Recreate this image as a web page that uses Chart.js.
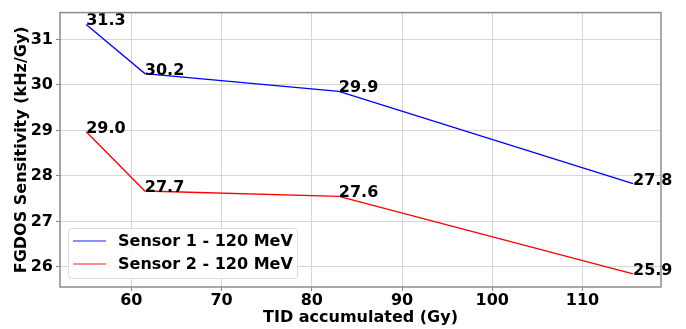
<!DOCTYPE html>
<html>
<head>
<meta charset="utf-8">
<script src="https://cdn.jsdelivr.net/npm/chart.js@4/dist/chart.umd.min.js"></script>
<style>
  html, body { margin: 0; padding: 0; background: #fff; }
  #wrap { width: 686px; height: 329px; }
</style>
</head>
<body>
<div id="wrap"><canvas id="chart" width="686" height="329"></canvas></div>
<script>
// dose points (Gy)
const tid = [55.0, 61.5, 83.0, 115.6];
// sensitivity per sensor (kHz/Gy)
const sensor1 = [31.33, 30.25, 29.86, 27.83];
const sensor2 = [28.97, 27.67, 27.55, 25.85];
// value labels written next to each point
const labels1 = ['31.3', '30.2', '29.9', '27.8'];
const labels2 = ['29.0', '27.7', '27.6', '25.9'];
const xTicks = [60, 70, 80, 90, 100, 110];
const yTicks = [26, 27, 28, 29, 30, 31];

const FONT = 'DejaVu Sans';

const toXY = arr => arr.map((v, i) => ({ x: tid[i], y: v }));

// texto de valores junto a cada punto
const pointText = {
  id: 'pointText',
  afterDatasetsDraw(chart) {
    const { ctx, scales } = chart;
    const sets = [labels1, labels2];
    ctx.save();
    ctx.font = 'bold 16px ' + FONT;
    ctx.fillStyle = '#000';
    ctx.textAlign = 'left';
    ctx.textBaseline = 'alphabetic';
    chart.data.datasets.forEach((ds, k) => {
      ds.data.forEach((p, i) => {
        ctx.fillText(sets[k][i], scales.x.getPixelForValue(p.x), scales.y.getPixelForValue(p.y) + 1);
      });
    });
    ctx.restore();
  }
};

// marco y leyenda dentro del área
const frameLegend = {
  id: 'frameLegend',
  afterDraw(chart) {
    const { ctx, chartArea: a } = chart;
    ctx.save();
    ctx.strokeStyle = '#8c8c8c';
    ctx.lineWidth = 1.5;
    ctx.strokeRect(a.left, a.top, a.right - a.left, a.bottom - a.top);

    const bx = a.left + 8, by = a.bottom - 59, bw = 229, bh = 50;
    ctx.fillStyle = 'rgba(255,255,255,0.85)';
    ctx.strokeStyle = '#dcdcdc';
    ctx.lineWidth = 1;
    ctx.beginPath();
    ctx.roundRect(bx + 0.5, by + 0.5, bw, bh, 3);
    ctx.fill();
    ctx.stroke();

    ctx.font = 'bold 16px ' + FONT;
    ctx.textBaseline = 'middle';
    chart.data.datasets.forEach((ds, k) => {
      const y = by + 13 + k * 23;
      ctx.strokeStyle = ds.borderColor;
      ctx.globalAlpha = 0.6;
      ctx.lineWidth = 1.5;
      ctx.beginPath();
      ctx.moveTo(bx + 5, y);
      ctx.lineTo(bx + 38, y);
      ctx.stroke();
      ctx.globalAlpha = 1;
      ctx.fillStyle = '#000';
      ctx.fillText(ds.label, bx + 50, y + 1);
    });
    ctx.restore();
  }
};

new Chart(document.getElementById('chart'), {
  type: 'line',
  data: {
    datasets: [
      {
        label: 'Sensor 1 - 120 MeV',
        data: toXY(sensor1),
        borderColor: 'rgb(0, 0, 255)',
        borderWidth: 1.3,
        pointRadius: 0,
        tension: 0
      },
      {
        label: 'Sensor 2 - 120 MeV',
        data: toXY(sensor2),
        borderColor: 'rgb(255, 0, 0)',
        borderWidth: 1.3,
        pointRadius: 0,
        tension: 0
      }
    ]
  },
  options: {
    responsive: false,
    animation: false,
    layout: { padding: { left: 12, right: 25, top: 11, bottom: 2 } },
    plugins: {
      legend: { display: false },
      tooltip: { enabled: false }
    },
    scales: {
      x: {
        type: 'linear',
        min: 52.1,
        max: 118.7,
        afterBuildTicks: s => { s.ticks = xTicks.map(v => ({ value: v })); },
        afterFit: s => { s.height = 40; },
        grid: { color: '#d6d6d6', lineWidth: 1, tickLength: 4, tickColor: '#8c8c8c' },
        border: { display: false },
        ticks: { color: '#000', font: { family: FONT, size: 16, weight: 'bold' }, padding: 0, maxRotation: 0 },
        title: { display: true, text: 'TID accumulated (Gy)', color: '#000', font: { family: FONT, size: 16, weight: 'bold' }, padding: { top: -2, bottom: 0 } }
      },
      y: {
        min: 25.56,
        max: 31.59,
        afterBuildTicks: s => { s.ticks = yTicks.map(v => ({ value: v })); },
        afterFit: s => { s.width = 48; },
        grid: { color: '#d6d6d6', lineWidth: 1, tickLength: 4, tickColor: '#8c8c8c' },
        border: { display: false },
        ticks: { color: '#000', font: { family: FONT, size: 16, weight: 'bold' }, padding: 3 },
        title: { display: true, text: 'FGDOS Sensitivity (kHz/Gy)', color: '#000', font: { family: FONT, size: 16, weight: 'bold' }, padding: { top: 0, bottom: 2 } }
      }
    }
  },
  plugins: [pointText, frameLegend]
});
</script>
</body>
</html>
